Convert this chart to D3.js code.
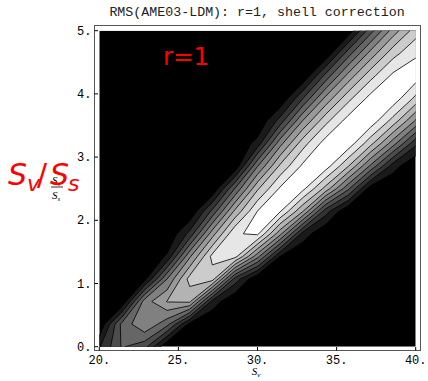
<!DOCTYPE html>
<html>
<head>
<meta charset="utf-8">
<script src="https://cdn.jsdelivr.net/npm/d3@7"></script>
<style>
  body { margin: 0; background: #fff; }
  svg { display: block; }
</style>
</head>
<body>
<svg width="428" height="381"></svg>
<script>
var title = 'RMS(AME03-LDM): r=1, shell correction';
var xTicks = [20, 25, 30, 35, 40],
    yTicks = [0, 1, 2, 3, 4, 5];

// sample points of the plot (Sv across, Sv/Ss up)
var svGrid = [20, 21.43, 22.86, 24.29, 25.71, 27.14, 28.57, 30, 31.43, 32.86, 34.29, 35.71, 37.14, 38.57, 40],
    ratioGrid = [0, 0.357, 0.714, 1.071, 1.429, 1.786, 2.143, 2.5, 2.857, 3.214, 3.571, 3.929, 4.286, 4.643, 5];

var levels = [1, 2, 3, 4, 5, 6, 7, 8, 9, 10];

var score = [
  [1.9, 4.1, 3.4, 0, 0, 0, 0, 0, 0, 0, 0, 0, 0, 0, 0],
  [0, 4.3, 5.9, 4.36, 0.66, 0, 0, 0, 0, 0, 0, 0, 0, 0, 0],
  [0, 0, 5.5, 7.05, 7.2, 1.6, 0, 0, 0, 0, 0, 0, 0, 0, 0],
  [0, 0, 0.6, 5.0, 8.4, 8.5, 2.6, 0, 0, 0, 0, 0, 0, 0, 0],
  [0, 0, 0, 1.15, 5.83, 9.3, 9.4, 5.36, 0.99, 0, 0, 0, 0, 0, 0],
  [0, 0, 0, 0, 2.31, 6.56, 9.88, 10.2, 6.3, 1.6, 0, 0, 0, 0, 0],
  [0, 0, 0, 0, 0, 3.25, 7.22, 10.02, 10.1, 7.08, 2.5, 0, 0, 0, 0],
  [0, 0, 0, 0, 0, 0, 4.05, 7.85, 10.15, 10.29, 7.68, 4.25, 0.41, 0, 0],
  [0, 0, 0, 0, 0, 0, 0.15, 4.95, 8.2, 10.2, 10.53, 8.1, 4.81, 1.45, 0],
  [0, 0, 0, 0, 0, 0, 0, 1.39, 5.66, 8.58, 10.44, 10.65, 8.33, 5.42, 2.24],
  [0, 0, 0, 0, 0, 0, 0, 0, 2.43, 6.05, 8.68, 10.4, 10.65, 8.59, 5.86],
  [0, 0, 0, 0, 0, 0, 0, 0, 0, 2.96, 6.23, 8.68, 10.35, 10.64, 8.74],
  [0, 0, 0, 0, 0, 0, 0, 0, 0, 0, 3.28, 6.32, 8.66, 10.23, 10.56],
  [0, 0, 0, 0, 0, 0, 0, 0, 0, 0, 0, 3.47, 6.36, 8.62, 9.85],
  [0, 0, 0, 0, 0, 0, 0, 0, 0, 0, 0, 0.2, 3.59, 6.46, 8.52]
];

var svg = d3.select('svg');

var plot = { left: 99.3, right: 415.7, top: 30.7, bottom: 346.7 };

var x = d3.scaleLinear().domain([20, 40]).range([plot.left, plot.right]),
    y = d3.scaleLinear().domain([0, 5]).range([plot.bottom, plot.top]);

var nx = svGrid.length,
    ny = ratioGrid.length;

// d3.contours puts sample i at i + 0.5
var gx = d3.scaleLinear().domain([0.5, nx - 0.5]).range([svGrid[0], svGrid[nx - 1]]),
    gy = d3.scaleLinear().domain([0.5, ny - 0.5]).range([ratioGrid[0], ratioGrid[ny - 1]]);

var contours = d3.contours().size([nx, ny]).thresholds(levels)(d3.merge(score));

var path = d3.geoPath(d3.geoTransform({
  point: function(px, py) { this.stream.point(x(gx(px)), y(gy(py))); }
}));

var shade = d3.scaleLinear().domain([0, levels.length]).range(['#000', '#fff']);

svg.append('defs').append('clipPath').attr('id', 'plot-clip')
  .append('rect')
    .attr('x', plot.left).attr('y', plot.top)
    .attr('width', plot.right - plot.left).attr('height', plot.bottom - plot.top);

var g = svg.append('g').attr('clip-path', 'url(#plot-clip)');

g.append('rect')
  .attr('x', plot.left).attr('y', plot.top)
  .attr('width', plot.right - plot.left).attr('height', plot.bottom - plot.top)
  .attr('fill', shade(0));

g.selectAll('path.band')
  .data(contours)
  .enter()
  .append('path')
  .attr('class', 'band')
  .attr('d', path)
  .attr('fill', function(d, i) { return shade(i + 1); })
  .attr('stroke', '#000')
  .attr('stroke-width', 0.8)
  .attr('stroke-linejoin', 'round');

// frame sits a few px outside the plotted area
svg.append('rect')
  .attr('x', 94.5).attr('y', 25.5)
  .attr('width', 326).attr('height', 325)
  .attr('fill', 'none')
  .attr('stroke', '#555')
  .attr('stroke-width', 1);

svg.selectAll('line.xtick')
  .data(xTicks)
  .enter()
  .append('line')
  .attr('x1', function(d) { return x(d); }).attr('x2', function(d) { return x(d); })
  .attr('y1', 350.5).attr('y2', 347)
  .attr('stroke', '#000');

svg.selectAll('line.ytick')
  .data(yTicks)
  .enter()
  .append('line')
  .attr('x1', 94.5).attr('x2', 98)
  .attr('y1', function(d) { return y(d); }).attr('y2', function(d) { return y(d); })
  .attr('stroke', '#000');

svg.selectAll('text.xlab')
  .data(xTicks)
  .enter()
  .append('text')
  .attr('x', function(d) { return x(d); })
  .attr('y', 364)
  .attr('text-anchor', 'middle')
  .style('font', '12px "Liberation Mono", monospace')
  .text(function(d) { return d + '.'; });

svg.selectAll('text.ylab')
  .data(yTicks)
  .enter()
  .append('text')
  .attr('x', 91.5)
  .attr('y', function(d) { return y(d) + 4; })
  .attr('text-anchor', 'end')
  .style('font', '12px "Liberation Mono", monospace')
  .text(function(d) { return d + '.'; });

svg.append('text')
  .attr('x', 257).attr('y', 16)
  .attr('text-anchor', 'middle')
  .style('font', '13.3px "Liberation Mono", monospace')
  .attr('fill', '#222')
  .text(title);

// axis labels in italic serif
var xl = svg.append('text')
  .attr('x', 256).attr('y', 375)
  .attr('text-anchor', 'middle')
  .style('font', 'italic 11px "Liberation Serif", serif');
xl.append('tspan').text('S');
xl.append('tspan').attr('dy', 2).style('font-size', '7px').text('v');

var yn = svg.append('text')
  .attr('x', 52).attr('y', 184)
  .style('font', 'italic 11px "Liberation Serif", serif');
yn.append('tspan').text('S');
yn.append('tspan').attr('dy', 2).style('font-size', '7px').text('v');

svg.append('line')
  .attr('x1', 51).attr('x2', 63)
  .attr('y1', 187).attr('y2', 187)
  .attr('stroke', '#000').attr('stroke-width', 0.8);

var yd = svg.append('text')
  .attr('x', 52).attr('y', 199)
  .style('font', 'italic 11px "Liberation Serif", serif');
yd.append('tspan').text('S');
yd.append('tspan').attr('dy', 2).style('font-size', '7px').text('s');

// red annotations laid over the plot
svg.append('text')
  .attr('x', 163).attr('y', 65)
  .attr('fill', '#ff0000')
  .style('font', '24.5px "DejaVu Sans", sans-serif')
  .text('r=1');

var red = svg.append('text')
  .attr('y', 185)
  .attr('fill', '#ff0000')
  .style('font', 'italic 30px "DejaVu Sans", sans-serif');
red.append('tspan').attr('x', 8).text('S');
red.append('tspan').attr('x', 27).attr('dy', 6).style('font-size', '22px').text('v');
red.append('tspan').attr('x', 37).attr('dy', -6).style('font-style', 'normal').text('/');
red.append('tspan').attr('x', 50).text('S');
red.append('tspan').attr('x', 68).attr('dy', 6).style('font-size', '22px').text('s');
</script>
</body>
</html>
